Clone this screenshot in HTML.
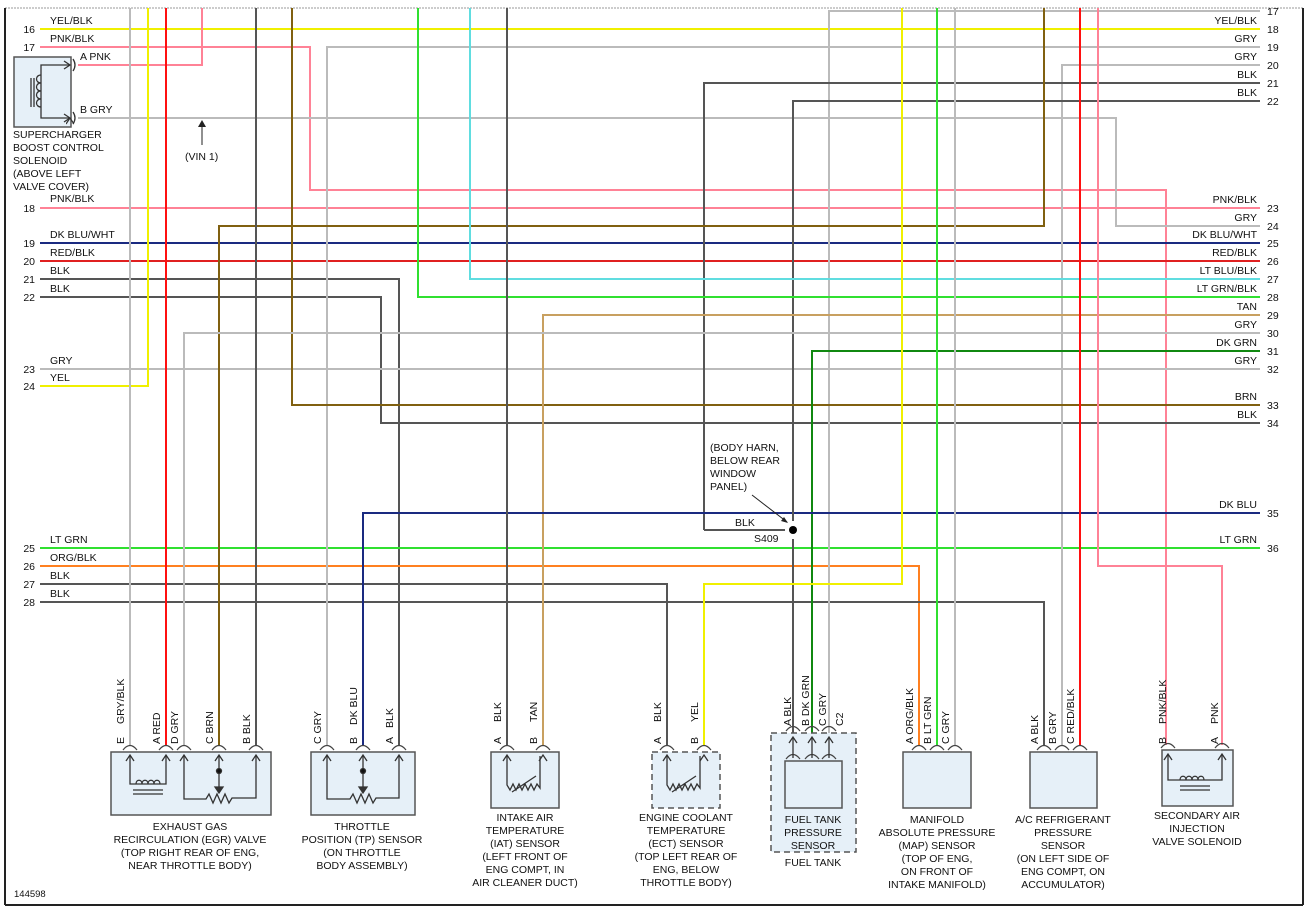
<!DOCTYPE html>
<html><head><meta charset="utf-8"><style>
html,body{margin:0;padding:0;background:#fff}
svg{display:block}
text{font-family:"Liberation Sans",sans-serif;font-size:10.5px;fill:#111}
.r{text-anchor:end}.m{text-anchor:middle}
.w{fill:none;stroke-width:2}
.box{fill:#e6f0f8;stroke:#555;stroke-width:1.5}
.in{fill:none;stroke:#333;stroke-width:1.3}
</style></head><body>
<svg width="1309" height="908" viewBox="0 0 1309 908" xmlns="http://www.w3.org/2000/svg">
<defs>
<marker id="ar" markerWidth="8" markerHeight="8" refX="4" refY="0" orient="auto" markerUnits="userSpaceOnUse"><path d="M0,6 L4,0 L8,6" fill="none" stroke="#333" stroke-width="1.2"/></marker>
</defs>
<line x1="5" y1="8" x2="1303" y2="8" stroke="#bbb" stroke-width="1.5" stroke-dasharray="2,1"/>
<line x1="5" y1="8" x2="5" y2="905" stroke="#222" stroke-width="2"/>
<line x1="1303" y1="8" x2="1303" y2="905" stroke="#222" stroke-width="2"/>
<line x1="5" y1="905" x2="1303" y2="905" stroke="#222" stroke-width="2"/>

<!-- horizontal straight wires -->
<g class="w">
<path d="M40 29H1260" stroke="#f0f000"/>
<path d="M40 47H310V190H1166V745" stroke="#ff8296"/>
<path d="M78 65H202V8" stroke="#ff8296"/>
<path d="M78 118H1116V226H1260" stroke="#bbb"/>
<path d="M40 208H1260" stroke="#ff8296"/>
<path d="M40 243H1260" stroke="#1a2a80"/>
<path d="M40 261H1260" stroke="#e02020"/>
<path d="M40 279H399V745" stroke="#555"/>
<path d="M40 297H381V423H1260" stroke="#555"/>
<path d="M40 369H1260" stroke="#bbb"/>
<path d="M40 386H148V8" stroke="#f0f000"/>
<path d="M40 548H1260" stroke="#30e030"/>
<path d="M40 566H919V745" stroke="#ff8020"/>
<path d="M40 584H667V745" stroke="#555"/>
<path d="M40 602H1044V745" stroke="#555"/>
<path d="M829 745V11H1260" stroke="#bbb"/>
<path d="M327 745V47H1260" stroke="#bbb"/>
<path d="M1062 745V65H1260" stroke="#bbb"/>
<path d="M704 530V83H1260" stroke="#555"/>
<path d="M704 530H785" stroke="#555"/>
<path d="M793 745V101H1260" stroke="#555"/>
<path d="M219 745V226H1044V8" stroke="#806010"/>
<path d="M292 8V405H1260" stroke="#806010"/>
<path d="M418 8V297H1260" stroke="#30e030"/>
<path d="M470 8V279H1260" stroke="#60dde0"/>
<path d="M543 745V315H1260" stroke="#c8a060"/>
<path d="M184 745V333H1260" stroke="#bbb"/>
<path d="M812 745V351H1260" stroke="#108810"/>
<path d="M363 745V513H1260" stroke="#1a2a80"/>
<path d="M130 8V745" stroke="#bbb"/>
<path d="M166 8V745" stroke="#ff1010"/>
<path d="M256 8V745" stroke="#555"/>
<path d="M507 8V745" stroke="#555"/>
<path d="M902 8V584H704V745" stroke="#f0f000"/>
<path d="M937 8V745" stroke="#30e030"/>
<path d="M955 8V745" stroke="#bbb"/>
<path d="M1080 8V745" stroke="#ff1010"/>
<path d="M1098 8V566H1222V745" stroke="#ff8296"/>
</g>
<rect x="785" y="515" width="16" height="10" fill="#fff"/>
<line x1="793" y1="505" x2="793" y2="545" stroke="#555" stroke-width="2"/>
<rect x="786" y="521" width="14" height="7" fill="#fff"/>
<rect x="786" y="533" width="14" height="6" fill="#fff"/>
<circle cx="793" cy="530" r="4" fill="#000"/>
<line x1="752" y1="495" x2="787" y2="522" stroke="#222" stroke-width="1"/>
<path d="M781 521 L788 523 L784 517Z" fill="#222"/>
<text x="710" y="451">(BODY HARN,</text><text x="710" y="464">BELOW REAR</text><text x="710" y="477">WINDOW</text><text x="710" y="490">PANEL)</text>
<text x="735" y="526">BLK</text><text x="754" y="542">S409</text>
<line x1="202" y1="145" x2="202" y2="122" stroke="#222" stroke-width="1"/><path d="M198 127 L202 120 L206 127Z" fill="#222"/>
<text x="185" y="160">(VIN 1)</text>

<!-- left labels -->
<g>
<text class="r" x="35" y="33">16</text><text x="50" y="24">YEL/BLK</text>
<text class="r" x="35" y="51">17</text><text x="50" y="42">PNK/BLK</text>
<text class="r" x="35" y="212">18</text><text x="50" y="202">PNK/BLK</text>
<text class="r" x="35" y="247">19</text><text x="50" y="238">DK BLU/WHT</text>
<text class="r" x="35" y="265">20</text><text x="50" y="256">RED/BLK</text>
<text class="r" x="35" y="283">21</text><text x="50" y="274">BLK</text>
<text class="r" x="35" y="301">22</text><text x="50" y="292">BLK</text>
<text class="r" x="35" y="373">23</text><text x="50" y="364">GRY</text>
<text class="r" x="35" y="390">24</text><text x="50" y="381">YEL</text>
<text class="r" x="35" y="552">25</text><text x="50" y="543">LT GRN</text>
<text class="r" x="35" y="570">26</text><text x="50" y="561">ORG/BLK</text>
<text class="r" x="35" y="588">27</text><text x="50" y="579">BLK</text>
<text class="r" x="35" y="606">28</text><text x="50" y="597">BLK</text>
<text x="80" y="60">A  PNK</text><text x="80" y="113">B  GRY</text>
</g>
<!-- right labels -->
<g>
<text x="1267" y="15">17</text>
<text x="1267" y="33">18</text><text class="r" x="1257" y="24">YEL/BLK</text>
<text x="1267" y="51">19</text><text class="r" x="1257" y="42">GRY</text>
<text x="1267" y="69">20</text><text class="r" x="1257" y="60">GRY</text>
<text x="1267" y="87">21</text><text class="r" x="1257" y="78">BLK</text>
<text x="1267" y="105">22</text><text class="r" x="1257" y="96">BLK</text>
<text x="1267" y="212">23</text><text class="r" x="1257" y="203">PNK/BLK</text>
<text x="1267" y="230">24</text><text class="r" x="1257" y="221">GRY</text>
<text x="1267" y="247">25</text><text class="r" x="1257" y="238">DK BLU/WHT</text>
<text x="1267" y="265">26</text><text class="r" x="1257" y="256">RED/BLK</text>
<text x="1267" y="283">27</text><text class="r" x="1257" y="274">LT BLU/BLK</text>
<text x="1267" y="301">28</text><text class="r" x="1257" y="292">LT GRN/BLK</text>
<text x="1267" y="319">29</text><text class="r" x="1257" y="310">TAN</text>
<text x="1267" y="337">30</text><text class="r" x="1257" y="328">GRY</text>
<text x="1267" y="355">31</text><text class="r" x="1257" y="346">DK GRN</text>
<text x="1267" y="373">32</text><text class="r" x="1257" y="364">GRY</text>
<text x="1267" y="409">33</text><text class="r" x="1257" y="400">BRN</text>
<text x="1267" y="427">34</text><text class="r" x="1257" y="418">BLK</text>
<text x="1267" y="517">35</text><text class="r" x="1257" y="508">DK BLU</text>
<text x="1267" y="552">36</text><text class="r" x="1257" y="543">LT GRN</text>
</g>

<!-- supercharger solenoid -->
<rect class="box" x="14" y="57" width="57" height="70"/>
<path class="in" d="M70 65H41V118H70" marker-end="url(#ar)"/>
<path class="in" d="M64 61L70 65L64 69M64 114L70 118L64 122"/>
<path class="in" d="M41 75c-6 0-6 8 0 8c-6 0-6 8 0 8c-6 0-6 8 0 8c-6 0-6 8 0 8M34 78V107M31 78V107"/>
<path class="in" d="M73 59q4 6 0 12M73 112q4 6 0 12"/>
<text x="13" y="138">SUPERCHARGER</text><text x="13" y="151">BOOST CONTROL</text><text x="13" y="164">SOLENOID</text><text x="13" y="177">(ABOVE LEFT</text><text x="13" y="190">VALVE COVER)</text>

<!-- connector boxes -->
<rect class="box" x="111" y="752" width="160" height="63"/>
<rect class="box" x="311" y="752" width="104" height="63"/>
<rect class="box" x="491" y="752" width="68" height="56"/>
<rect class="box" x="652" y="752" width="68" height="56" stroke-dasharray="6,4"/>
<rect class="box" x="771" y="733" width="85" height="119" stroke-dasharray="6,4"/>
<rect class="box" x="785" y="761" width="57" height="47"/>
<rect class="box" x="903" y="752" width="68" height="56"/>
<rect class="box" x="1030" y="752" width="67" height="56"/>
<rect class="box" x="1162" y="750" width="71" height="56"/>

<!-- pin arcs -->
<g fill="none" stroke="#444" stroke-width="1.2">
<path d="M123 750q7-9 14 0M159 750q7-9 14 0M177 750q7-9 14 0M212 750q7-9 14 0M249 750q7-9 14 0"/>
<path d="M320 750q7-9 14 0M356 750q7-9 14 0M392 750q7-9 14 0"/>
<path d="M500 750q7-9 14 0M536 750q7-9 14 0M660 750q7-9 14 0M697 750q7-9 14 0"/>
<path d="M786 731q7-9 14 0M805 731q7-9 14 0M822 731q7-9 14 0"/>
<path d="M786 759q7-9 14 0M805 759q7-9 14 0M822 759q7-9 14 0"/>
<path d="M912 750q7-9 14 0M930 750q7-9 14 0M948 750q7-9 14 0M1037 750q7-9 14 0M1055 750q7-9 14 0M1073 750q7-9 14 0"/>
<path d="M1161 748q7-9 14 0M1215 748q7-9 14 0"/>
</g>
<!-- internals -->
<g class="in">
<path d="M130 756V784H166V756" /><path d="M126 761L130 755L134 761M162 761L166 755L170 761"/>
<path d="M136 784c0-5 6-5 6 0c0-5 6-5 6 0c0-5 6-5 6 0c0-5 6-5 6 0M133 790H163M133 794H163"/>
<path d="M184 756V799H206l3-5 4 9 4-9 4 9 4-9 4 9 3-5H256V756"/><path d="M180 761L184 755L188 761M252 761L256 755L260 761M215 761L219 755L223 761"/>
<path d="M219 756V792"/><path d="M215 787L219 793L223 787Z" fill="#333"/><circle cx="219" cy="771" r="2.5" fill="#111"/>
<path d="M327 756V799H350l3-5 4 9 4-9 4 9 4-9 4 9 3-5H399V756"/><path d="M323 761L327 755L331 761M395 761L399 755L403 761M359 761L363 755L367 761"/>
<path d="M363 756V792"/><path d="M359 787L363 793L367 787Z" fill="#333"/><circle cx="363" cy="771" r="2.5" fill="#111"/>
<path d="M507 756V785l3 5 3-6 3 6 3-6 3 6 3-6 3 6 3-6 3 6 3-6 3 4V756M512 792L536 776"/><path d="M503 761L507 755L511 761M539 761L543 755L547 761"/>
<path d="M667 756V785l3 5 3-6 3 6 3-6 3 6 3-6 3 6 3-6 3 6 3-6 3 4V756M672 792L696 776"/><path d="M663 761L667 755L671 761M700 761L704 755L708 761"/>
<path d="M793 738V758M812 738V758M829 738V758"/><path d="M789 743L793 737L797 743M808 743L812 737L816 743M825 743L829 737L833 743"/>
<path d="M1168 755V780H1222V755"/><path d="M1164 760L1168 754L1172 760M1218 760L1222 754L1226 760"/>
<path d="M1180 780c0-5 6-5 6 0c0-5 6-5 6 0c0-5 6-5 6 0c0-5 6-5 6 0M1180 786H1210M1180 790H1210"/>
</g>

<!-- rotated pin labels -->
<g>
<text transform="translate(124,744) rotate(-90)">E</text><text transform="translate(124,724) rotate(-90)">GRY/BLK</text>
<text transform="translate(160,744) rotate(-90)">A RED</text>
<text transform="translate(178,744) rotate(-90)">D GRY</text>
<text transform="translate(213,744) rotate(-90)">C BRN</text>
<text transform="translate(250,744) rotate(-90)">B BLK</text>
<text transform="translate(321,744) rotate(-90)">C GRY</text>
<text transform="translate(357,744) rotate(-90)">B</text><text transform="translate(357,725) rotate(-90)">DK BLU</text>
<text transform="translate(393,744) rotate(-90)">A</text><text transform="translate(393,728) rotate(-90)">BLK</text>
<text transform="translate(501,744) rotate(-90)">A</text><text transform="translate(501,722) rotate(-90)">BLK</text>
<text transform="translate(537,744) rotate(-90)">B</text><text transform="translate(537,722) rotate(-90)">TAN</text>
<text transform="translate(661,744) rotate(-90)">A</text><text transform="translate(661,722) rotate(-90)">BLK</text>
<text transform="translate(698,744) rotate(-90)">B</text><text transform="translate(698,722) rotate(-90)">YEL</text>
<text transform="translate(791,726) rotate(-90)">A  BLK</text>
<text transform="translate(809,726) rotate(-90)">B  DK GRN</text>
<text transform="translate(826,726) rotate(-90)">C  GRY</text>
<text transform="translate(843,726) rotate(-90)">C2</text>
<text transform="translate(913,744) rotate(-90)">A  ORG/BLK</text>
<text transform="translate(931,744) rotate(-90)">B  LT GRN</text>
<text transform="translate(949,744) rotate(-90)">C  GRY</text>
<text transform="translate(1038,744) rotate(-90)">A  BLK</text>
<text transform="translate(1056,744) rotate(-90)">B  GRY</text>
<text transform="translate(1074,744) rotate(-90)">C  RED/BLK</text>
<text transform="translate(1166,744) rotate(-90)">B</text><text transform="translate(1166,724) rotate(-90)">PNK/BLK</text>
<text transform="translate(1218,744) rotate(-90)">A</text><text transform="translate(1218,724) rotate(-90)">PNK</text>
</g>

<!-- component labels -->
<g class="m">
<text class="m" x="190" y="830">EXHAUST GAS</text><text class="m" x="190" y="843">RECIRCULATION (EGR) VALVE</text><text class="m" x="190" y="856">(TOP RIGHT REAR OF ENG,</text><text class="m" x="190" y="869">NEAR THROTTLE BODY)</text>
<text class="m" x="362" y="830">THROTTLE</text><text class="m" x="362" y="843">POSITION (TP) SENSOR</text><text class="m" x="362" y="856">(ON THROTTLE</text><text class="m" x="362" y="869">BODY ASSEMBLY)</text>
<text class="m" x="525" y="821">INTAKE AIR</text><text class="m" x="525" y="834">TEMPERATURE</text><text class="m" x="525" y="847">(IAT) SENSOR</text><text class="m" x="525" y="860">(LEFT FRONT OF</text><text class="m" x="525" y="873">ENG COMPT, IN</text><text class="m" x="525" y="886">AIR CLEANER DUCT)</text>
<text class="m" x="686" y="821">ENGINE COOLANT</text><text class="m" x="686" y="834">TEMPERATURE</text><text class="m" x="686" y="847">(ECT) SENSOR</text><text class="m" x="686" y="860">(TOP LEFT REAR OF</text><text class="m" x="686" y="873">ENG, BELOW</text><text class="m" x="686" y="886">THROTTLE BODY)</text>
<text class="m" x="813" y="823">FUEL TANK</text><text class="m" x="813" y="836">PRESSURE</text><text class="m" x="813" y="849">SENSOR</text><text class="m" x="813" y="866">FUEL TANK</text>
<text class="m" x="937" y="823">MANIFOLD</text><text class="m" x="937" y="836">ABSOLUTE PRESSURE</text><text class="m" x="937" y="849">(MAP) SENSOR</text><text class="m" x="937" y="862">(TOP OF ENG,</text><text class="m" x="937" y="875">ON FRONT OF</text><text class="m" x="937" y="888">INTAKE MANIFOLD)</text>
<text class="m" x="1063" y="823">A/C REFRIGERANT</text><text class="m" x="1063" y="836">PRESSURE</text><text class="m" x="1063" y="849">SENSOR</text><text class="m" x="1063" y="862">(ON LEFT SIDE OF</text><text class="m" x="1063" y="875">ENG COMPT, ON</text><text class="m" x="1063" y="888">ACCUMULATOR)</text>
<text class="m" x="1197" y="819">SECONDARY AIR</text><text class="m" x="1197" y="832">INJECTION</text><text class="m" x="1197" y="845">VALVE SOLENOID</text>
</g>
<text x="14" y="897" style="font-size:9.5px">144598</text>
</svg>
</body></html>
